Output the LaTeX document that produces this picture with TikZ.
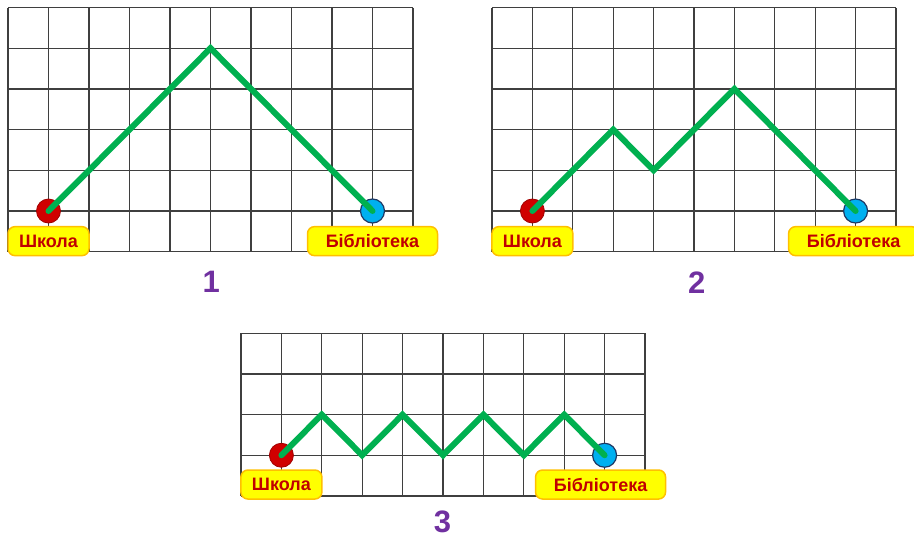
\documentclass[tikz,border=0pt]{standalone}
\usepackage{fontspec}
\setmainfont{Liberation Sans}
\definecolor{gridc}{HTML}{3F3F3F}
\definecolor{pathc}{HTML}{00B050}
\definecolor{lblfill}{HTML}{FFFF00}
\definecolor{lbldraw}{HTML}{FFC000}
\definecolor{lbltext}{HTML}{C00000}
\definecolor{numc}{HTML}{7030A0}
\definecolor{schoolc}{HTML}{D00000}
\definecolor{schoolrim}{HTML}{A00000}
\definecolor{libc}{HTML}{00B0F0}
\definecolor{librim}{HTML}{1F3864}
\tikzset{
  gridline/.style={draw=gridc, line width=1.3pt},
  route/.style={draw=pathc, line width=6pt, line join=miter, line cap=round},
  school/.style={circle, fill=schoolc, draw=schoolrim, line width=0.8pt, minimum size=24pt, inner sep=0pt},
  library/.style={circle, fill=libc, draw=librim, line width=1.2pt, minimum size=24pt, inner sep=0pt},
  lbl/.style={rounded corners=7pt, fill=lblfill, draw=lbldraw, line width=1.5pt,
    text=lbltext, font=\fontsize{18}{20}\selectfont\bfseries, minimum height=29pt, inner sep=0pt},
  lblschool/.style={lbl, minimum width=81pt},
  lbllib/.style={lbl, minimum width=130pt},
  numlbl/.style={text=numc, font=\fontsize{31}{33}\selectfont\bfseries, inner sep=0pt}
}
\begin{document}
\begin{tikzpicture}[x=1pt,y=-1pt]
\useasboundingbox (0,0) rectangle (914,541);
% ---------- grid 1 ----------
\begin{scope}[shift={(8pt,-7.5pt)}, x=40.5pt, y=-40.7pt]
  \foreach \i in {0,...,10} \draw[gridline] (\i,0) -- (\i,6);
  \foreach \j in {0,...,6} \draw[gridline] (0,\j) -- (10,\j);
  \node[school] (s1) at (1,5) {};
  \node[library] (b1) at (9,5) {};
  \coordinate (p1a) at (5,1);
  \draw[route] (s1.center) -- (p1a) -- (b1.center);
  \node[lblschool] (ls1) at (1,5.74) {Школа};
  \node[lbllib] (lb1) at (9,5.74) {Бібліотека};
  \node[numlbl] (n1) at (5.02,6.75) {1};
\end{scope}
% ---------- grid 2 ----------
\begin{scope}[shift={(492pt,-7.5pt)}, x=40.4pt, y=-40.7pt]
  \foreach \i in {0,...,10} \draw[gridline] (\i,0) -- (\i,6);
  \foreach \j in {0,...,6} \draw[gridline] (0,\j) -- (10,\j);
  \node[school] (s2) at (1,5) {};
  \node[library] (b2) at (9,5) {};
  \coordinate (p2a) at (3,3);
  \coordinate (p2b) at (4,4);
  \coordinate (p2c) at (6,2);
  \draw[route] (s2.center) -- (p2a) -- (p2b) -- (p2c) -- (b2.center);
  \node[lblschool] (ls2) at (1,5.74) {Школа};
  \node[lbllib] (lb2) at (8.95,5.74) {Бібліотека};
  \node[numlbl] (n2) at (5.07,6.75) {2};
\end{scope}
% ---------- grid 3 ----------
\begin{scope}[shift={(241pt,-333.3pt)}, x=40.4pt, y=-40.65pt]
  \foreach \i in {0,...,10} \draw[gridline] (\i,0) -- (\i,4);
  \foreach \j in {0,...,4} \draw[gridline] (0,\j) -- (10,\j);
  \node[school] (s3) at (1,3) {};
  \node[library] (b3) at (9,3) {};
  \coordinate (q2) at (2,2);
  \coordinate (q3) at (3,3);
  \coordinate (q4) at (4,2);
  \coordinate (q5) at (5,3);
  \coordinate (q6) at (6,2);
  \coordinate (q7) at (7,3);
  \coordinate (q8) at (8,2);
  \draw[route] (s3.center) -- (q2) -- (q3) -- (q4) -- (q5) -- (q6) -- (q7) -- (q8) -- (b3.center);
  \node[lblschool] (ls3) at (1,3.72) {Школа};
  \node[lbllib] (lb3) at (8.9,3.72) {Бібліотека};
  \node[numlbl] (n3) at (4.99,4.63) {3};
\end{scope}
\end{tikzpicture}
\end{document}
